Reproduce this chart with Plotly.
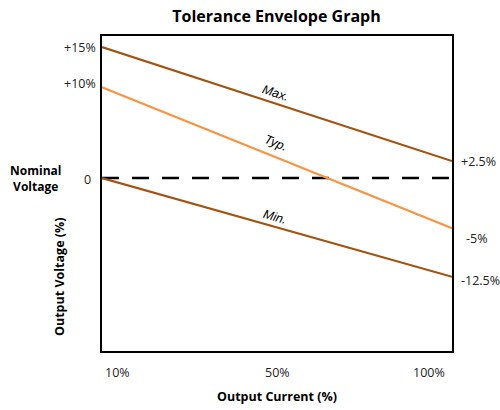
import plotly.graph_objects as go

# Data (x in % output current, y in % deviation as drawn)
x_ends = [10, 100]
max_vals = [15.0, 1.95]
typ_vals = [10.4, -5.75]
min_vals = [0.0, -11.3]
nominal_vals = [0.0, 0.0]

left_tick_labels = ["+15%", "+10%", "0"]
left_tick_pos = [15.0, 10.8, -0.2]
right_tick_labels = ["+2.5%", "-5%", "-12.5%"]
right_tick_pos = [1.95, -6.9, -11.7]
x_tick_labels = ["10%", "50%", "100%"]
x_tick_pos = [14.1, 55.0, 94.1]

BROWN = "#A4520F"
ORANGE = "#F79646"
FONT = "Open Sans"

fig = go.Figure()
fig.add_trace(go.Scatter(x=x_ends, y=nominal_vals, mode="lines",
                         line=dict(color="black", width=2.5, dash="17px,13px"), hoverinfo="skip"))
fig.add_trace(go.Scatter(x=x_ends, y=max_vals, mode="lines",
                         line=dict(color=BROWN, width=2.2), hoverinfo="skip"))
fig.add_trace(go.Scatter(x=x_ends, y=typ_vals, mode="lines",
                         line=dict(color=ORANGE, width=2.2), hoverinfo="skip"))
fig.add_trace(go.Scatter(x=x_ends, y=min_vals, mode="lines",
                         line=dict(color=BROWN, width=2.2), hoverinfo="skip"))

ann = []
for t, v in zip(left_tick_labels, left_tick_pos):
    ann.append(dict(x=-0.012 if t != "0" else -0.025, y=v, xref="paper", yref="y", text=t,
                    showarrow=False, xanchor="right", yanchor="middle",
                    font=dict(family=FONT, size=12.5, color="#222")))
for t, v in zip(right_tick_labels, right_tick_pos):
    ann.append(dict(x=1.02 if t != "-5%" else 1.035, y=v, xref="paper", yref="y", text=t,
                    showarrow=False, xanchor="left", yanchor="middle",
                    font=dict(family=FONT, size=12.5, color="#222")))
for t, v in zip(x_tick_labels, x_tick_pos):
    ann.append(dict(x=v, y=-0.067, xref="x", yref="paper", text=t,
                    showarrow=False, xanchor="center", yanchor="middle",
                    font=dict(family=FONT, size=12.5, color="#222")))
# Line labels
for t, xv, yv, ang in [("Max.", 54.5, 9.74, 18), ("Typ.", 54.7, 4.0, 22), ("Min.", 54.5, -4.47, 16)]:
    ann.append(dict(x=xv, y=yv, xref="x", yref="y", text=f"<i>{t}</i>", textangle=ang,
                    showarrow=False, xanchor="center", yanchor="middle",
                    font=dict(family="Liberation Sans", size=12.5, color="black")))
ann.append(dict(x=-0.19, y=0.0, xref="paper", yref="y", text="<b>Nominal<br>Voltage</b>",
                showarrow=False, xanchor="center", yanchor="middle",
                font=dict(family=FONT, size=12, color="black")))
ann.append(dict(x=-0.12, y=0.235, xref="paper", yref="paper", text="<b>Output Voltage (%)</b>",
                textangle=-90, showarrow=False, xanchor="center", yanchor="middle",
                font=dict(family=FONT, size=12.5, color="black")))
ann.append(dict(x=0.5, y=-0.145, xref="paper", yref="paper", text="<b>Output Current (%)</b>",
                showarrow=False, xanchor="center", yanchor="middle",
                font=dict(family=FONT, size=12.5, color="black")))

fig.update_layout(
    width=500, height=410,
    margin=dict(l=102, r=48, t=36, b=59),
    paper_bgcolor="white", plot_bgcolor="white",
    showlegend=False,
    title=dict(text="<b>Tolerance Envelope Graph</b>", x=0.553, xanchor="center",
               y=0.96, yanchor="middle", font=dict(family=FONT, size=16, color="black")),
    annotations=ann,
    xaxis=dict(range=[10, 100], showgrid=False, zeroline=False, showticklabels=False,
               ticks="", showline=True, linecolor="black", linewidth=2, mirror=True),
    yaxis=dict(range=[-19.8, 16.27], showgrid=False, zeroline=False, showticklabels=False,
               ticks="", showline=True, linecolor="black", linewidth=2, mirror=True),
)
fig.write_html("out.html", config={"displayModeBar": False},
               post_script="document.body.style.margin='0';document.body.style.overflow='hidden';")
